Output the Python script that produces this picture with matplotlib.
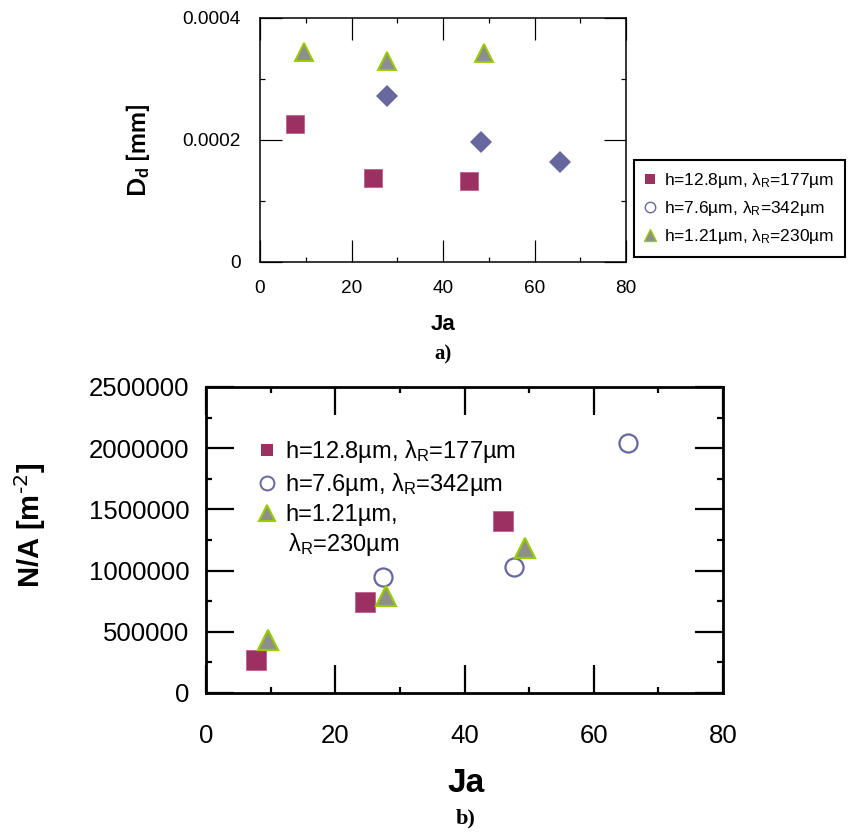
import numpy as np
import matplotlib
matplotlib.use('Agg')
import matplotlib.pyplot as plt
import matplotlib.ticker as mticker
from matplotlib.lines import Line2D

# -----------------------------------------------------------------------------
# Data
# -----------------------------------------------------------------------------
LABELS = ['h=12.8µm, λ$_\\mathregular{R}$=177µm',
          'h=7.6µm, λ$_\\mathregular{R}$=342µm',
          'h=1.21µm, λ$_\\mathregular{R}$=230µm']

# (a) droplet departure diameter D_d [mm] vs Ja
ja_a_sq = [7.7, 24.6, 45.7]
dd_a_sq = [0.000226, 0.000137, 0.000132]
ja_a_dm = [27.8, 48.2, 65.6]
dd_a_dm = [0.000272, 0.000196, 0.000164]
ja_a_tr = [9.7, 27.8, 49.0]
dd_a_tr = [0.000345, 0.000329, 0.000343]

# (b) nucleation site density N/A [m^-2] vs Ja
ja_b_sq = [7.7, 24.6, 45.9]
na_b_sq = [271000, 742000, 1407000]
ja_b_ci = [27.4, 47.7, 65.3]
na_b_ci = [951000, 1032000, 2043000]
ja_b_tr = [9.6, 27.9, 49.3]
na_b_tr = [434000, 793000, 1185000]

C_SQ = '#9b3163'
C_BL = '#67679f'
C_TR_FACE = '#8e8e8e'
C_TR_EDGE = '#99cc00'

plt.rcParams.update({
    'font.family': ['Liberation Sans', 'DejaVu Sans'],
    'mathtext.default': 'regular',
})

W, H = 849, 836
fig = plt.figure(figsize=(W / 100, H / 100), dpi=100)


def _px_axes(l, t, r, b):
    return fig.add_axes([l / W, 1 - b / H, (r - l) / W, (b - t) / H])


def _style_axes(ax, lw, major_len, minor_len, pad_x, pad_y, fs):
    for s in ax.spines.values():
        s.set_linewidth(lw)
    ax.tick_params(which='both', direction='in', top=True, right=True,
                   width=lw * 0.8, labelsize=fs)
    ax.tick_params(which='major', length=major_len)
    ax.tick_params(which='minor', length=minor_len)
    ax.tick_params(axis='x', pad=pad_x)
    ax.tick_params(axis='y', pad=pad_y)


# =============================================================================
# (a)
# =============================================================================
ax1 = _px_axes(260, 18, 626, 262)
ax1.plot(ja_a_sq, dd_a_sq, 's', ms=12.5, color=C_SQ, mec='#c06090', mew=0.6)
ax1.plot(ja_a_dm, dd_a_dm, 'D', ms=11.5, color=C_BL, mew=0)
ax1.plot(ja_a_tr, dd_a_tr, '^', ms=13.5, mfc=C_TR_FACE, mec=C_TR_EDGE, mew=1.4)
ax1.set_xlim(0, 80)
ax1.set_ylim(0, 0.0004)
ax1.xaxis.set_major_locator(mticker.MultipleLocator(20))
ax1.xaxis.set_minor_locator(mticker.MultipleLocator(10))
ax1.yaxis.set_major_locator(mticker.MultipleLocator(0.0002))
ax1.yaxis.set_minor_locator(mticker.MultipleLocator(0.0001))
ax1.yaxis.set_major_formatter(
    mticker.FuncFormatter(lambda v, _: '0' if abs(v) < 1e-12 else f'{v:.4f}'))
_style_axes(ax1, 1.1, 16, 3.6, 13, 14, 13.7)

handles_a = [
    Line2D([], [], ls='none', marker='s', ms=6.5, color=C_SQ, mew=0),
    Line2D([], [], ls='none', marker='o', ms=7.5, mfc='none', mec=C_BL, mew=1.0),
    Line2D([], [], ls='none', marker='^', ms=8.5, mfc=C_TR_FACE, mec=C_TR_EDGE, mew=1.0),
]
leg_a = fig.legend(handles_a, LABELS, loc='upper left',
                   bbox_to_anchor=(634 / W, 1 - 160 / H), borderaxespad=0,
                   fontsize=12.5, handlelength=0.6, handletextpad=0.45,
                   borderpad=0.65, labelspacing=0.5, fancybox=False,
                   edgecolor='black', framealpha=1)
leg_a.get_frame().set_linewidth(1.5)

fig.text(138 / W, 1 - 150 / H, 'D$_\\mathregular{d}$ [mm]', rotation=90,
         ha='center', va='center', fontsize=18, fontweight='bold',
         family=['Lato', 'DejaVu Sans'])
fig.text(443 / W, 1 - 324 / H, 'Ja', ha='center', va='center',
         fontsize=16, fontweight='bold')
fig.text(443 / W, 1 - 354 / H, 'a)', ha='center', va='center',
         fontsize=15, fontweight='bold', family=['Liberation Serif'])

# =============================================================================
# (b)
# =============================================================================
ax2 = _px_axes(206, 387, 723, 693)
ax2.plot(ja_b_sq, na_b_sq, 's', ms=14, color=C_SQ, mec='#c06090', mew=0.6)
ax2.plot(ja_b_ci, na_b_ci, 'o', ms=13, mfc='white', mec=C_BL, mew=1.6)
ax2.plot(ja_b_tr, na_b_tr, '^', ms=14.5, mfc=C_TR_FACE, mec=C_TR_EDGE, mew=1.6)
ax2.set_xlim(0, 80)
ax2.set_ylim(0, 2500000)
ax2.xaxis.set_major_locator(mticker.MultipleLocator(20))
ax2.xaxis.set_minor_locator(mticker.MultipleLocator(10))
ax2.yaxis.set_major_locator(mticker.MultipleLocator(500000))
ax2.yaxis.set_minor_locator(mticker.MultipleLocator(250000))
ax2.yaxis.set_major_formatter(mticker.StrMethodFormatter('{x:.0f}'))
_style_axes(ax2, 2.0, 20, 4.3, 22, 12, 18.5)

handles_b = [
    Line2D([], [], ls='none', marker='s', ms=9, color=C_SQ, mew=0),
    Line2D([], [], ls='none', marker='o', ms=10, mfc='none', mec=C_BL, mew=1.4),
    Line2D([], [], ls='none', marker='^', ms=11.5, mfc=C_TR_FACE, mec=C_TR_EDGE, mew=1.5),
]
labels_b = LABELS[:2] + ['h=1.21µm,']
ax2.legend(handles_b, labels_b, loc='upper left',
           bbox_to_anchor=(258 / W, 1 - 438 / H),
           bbox_transform=fig.transFigure, borderaxespad=0, borderpad=0,
           fontsize=17, handlelength=0.8, handletextpad=0.35,
           labelspacing=0.25, frameon=False)
# second line of the third legend entry
fig.text(288 / W, 1 - 545 / H, 'λ$_\\mathregular{R}$=230µm', ha='left',
         va='center', fontsize=17)

fig.text(30 / W, 1 - 525 / H, 'N/A [m$^{\\text{-2}}$]', rotation=90,
         ha='center', va='center', fontsize=21, fontweight='bold')
fig.text(466 / W, 1 - 784 / H, 'Ja', ha='center', va='center',
         fontsize=24, fontweight='bold')
fig.text(466 / W, 1 - 818 / H, 'b)', ha='center', va='center',
         fontsize=16, fontweight='bold', family=['Liberation Serif'])

fig.savefig('out.png', dpi=100)
